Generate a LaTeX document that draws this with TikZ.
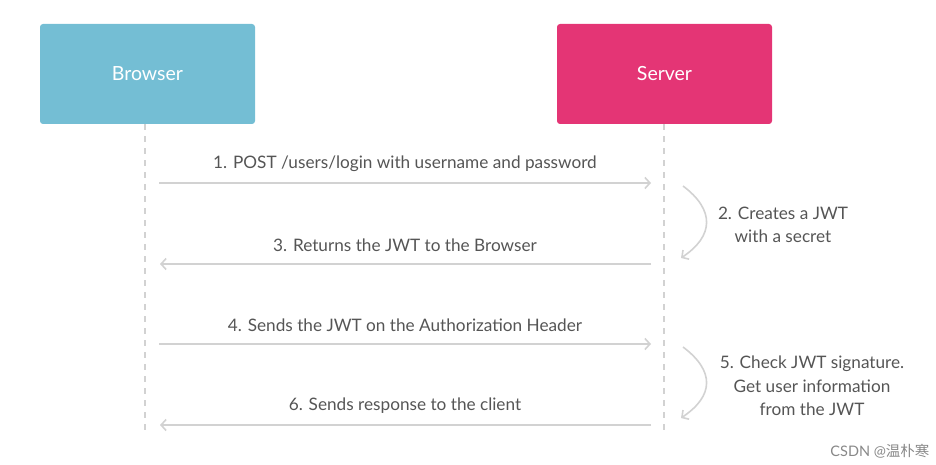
\documentclass[tikz,border=0pt]{standalone}
\usepackage{fontspec}
\setmainfont{Lato}
\newfontfamily\cjk{Noto Sans CJK SC}
\usetikzlibrary{arrows.meta}
\definecolor{browserblue}{HTML}{74BED4}
\definecolor{serverpink}{HTML}{E43575}
\definecolor{linegray}{HTML}{D2D2D2}
\definecolor{textgray}{HTML}{555555}
\begin{document}
\begin{tikzpicture}[
    x=1pt, y=-1pt,
    actor/.style={rectangle, rounded corners=3pt, minimum width=215pt, minimum height=100pt, text=white, font=\fontsize{19.5}{22}\selectfont},
    lifeline/.style={draw=linegray, line width=1.6pt, dash pattern=on 6pt off 6pt},
    arrow/.style={draw=linegray, line width=1.6pt, -{Straight Barb[length=5pt, width=11pt, line width=1.6pt]}},
    msg/.style={text=textgray, font=\fontsize{17.2}{23.5}\selectfont, align=center}
]
    \useasboundingbox (0,0) rectangle (936,465);
    \node[actor, fill=browserblue] (browser) at (147.5,74) {Browser};
    \node[actor, fill=serverpink] (server) at (664.5,74) {Server};

    % lifelines
    \coordinate (bend) at (145,432);
    \coordinate (send) at (664,432);
    \draw[lifeline] (browser.south -| bend) -- (bend);
    \draw[lifeline] (server.south -| send) -- (send);

    % message ends
    \coordinate (b1) at (159,183);  \coordinate (s1) at (651,183);
    \coordinate (s3) at (651,264);  \coordinate (b3) at (160,264);
    \coordinate (b4) at (159,344);  \coordinate (s4) at (651,344);
    \coordinate (s6) at (651,425);  \coordinate (b6) at (160,425);

    \draw[arrow] (b1) -- (s1);
    \draw[arrow] (s3) -- (b3);
    \draw[arrow] (b4) -- (s4);
    \draw[arrow] (s6) -- (b6);

    \node[msg] (m1) at (405,164) {1. POST /users/login with username and password};
    \node[msg] (m3) at (405,245) {3. Returns the JWT to the Browser};
    \node[msg] (m4) at (405,325) {4. Sends the JWT on the Authorization Header};
    \node[msg] (m6) at (405,406) {6. Sends response to the client};

    % server side steps
    \coordinate (c2a) at (683,186); \coordinate (c2b) at (681,258);
    \coordinate (c5a) at (683,347); \coordinate (c5b) at (681,418);
    \draw[arrow] (c2a) .. controls (715,210) and (714,236) .. (c2b);
    \draw[arrow] (c5a) .. controls (715,371) and (714,396) .. (c5b);

    \node[msg] (m2) at (783,225) {2. Creates a JWT\\with a secret};
    \node[msg] (m5) at (812,386) {5. Check JWT signature.\\Get user information\\from the JWT};

    \node[text=textgray!70, font=\fontsize{14.5}{16}\selectfont, anchor=east] (mark) at (933,451) {CSDN @{\cjk 温朴寒}};
\end{tikzpicture}
\end{document}
